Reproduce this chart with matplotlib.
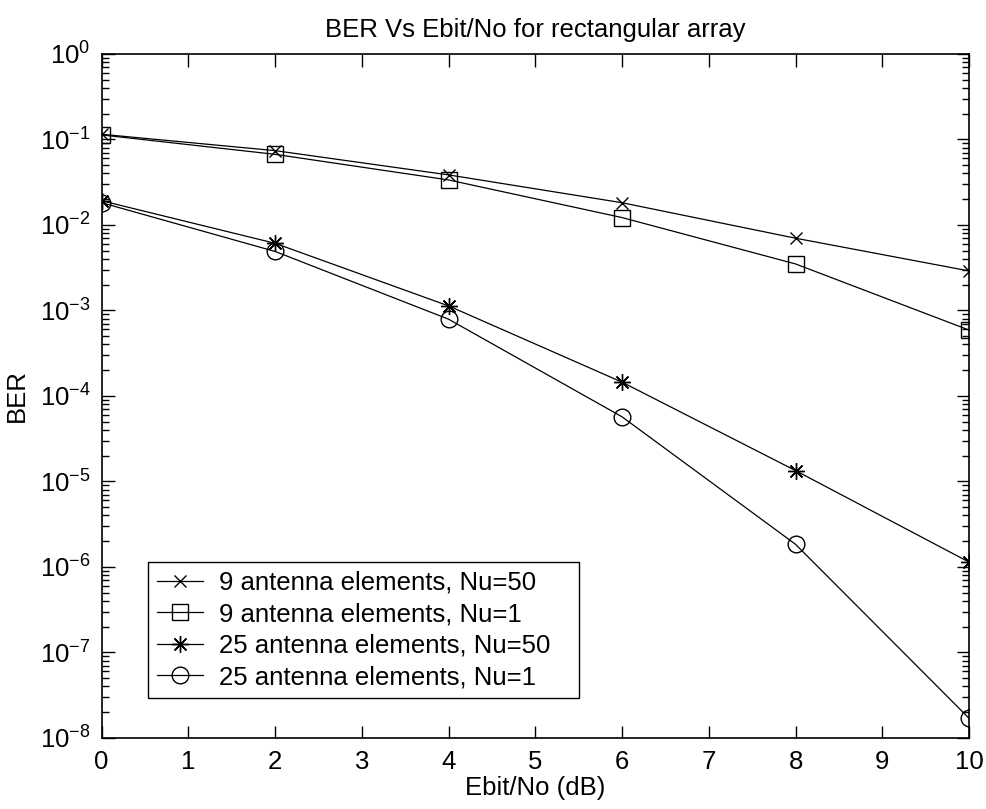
import matplotlib
matplotlib.use("Agg")
import matplotlib.pyplot as plt
from matplotlib.ticker import LogLocator, NullFormatter, FixedLocator

plt.rcParams["font.family"] = ["Liberation Sans", "DejaVu Sans"]
plt.rcParams["mathtext.fontset"] = "custom"
plt.rcParams["mathtext.rm"] = "Liberation Sans"
plt.rcParams["mathtext.default"] = "regular"

# Ebit/No (dB) values
ebno = [0, 2, 4, 6, 8, 10]

# BER
ber_9_nu50 = [0.115, 0.074, 0.0385, 0.0182, 0.0070, 0.0029]
ber_9_nu1 = [0.113, 0.067, 0.0336, 0.0122, 0.0035, 0.00059]
ber_25_nu50 = [0.0192, 0.0061, 0.00113, 1.45e-4, 1.34e-5, 1.14e-6]
ber_25_nu1 = [0.0182, 0.0049, 0.00079, 5.7e-5, 1.84e-6, 1.7e-8]

labels = ["9 antenna elements, Nu=50", "9 antenna elements, Nu=1",
          "25 antenna elements, Nu=50", "25 antenna elements, Nu=1"]

FS = 18.5

fig = plt.figure(figsize=(9.86, 8.09), dpi=100)
ax = fig.add_axes([0.1031, 0.0878, 0.8797, 0.8455])

common = dict(color="black", lw=0.9, mfc="none", mec="black", mew=1.0)
ax.semilogy(ebno, ber_9_nu50, marker="x", ms=8, label=labels[0], **common)
ax.semilogy(ebno, ber_9_nu1, marker="s", ms=12, label=labels[1], **common)
ax.semilogy(ebno, ber_25_nu50, marker=(8, 2, 0), ms=12, label=labels[2], **common)
ax.semilogy(ebno, ber_25_nu1, marker="o", ms=12, label=labels[3], **common)

ax.set_xlim(0, 10)
ax.set_ylim(1e-8, 1)
ax.xaxis.set_major_locator(FixedLocator(range(0, 11)))
ax.yaxis.set_major_locator(LogLocator(base=10, numticks=20))
ax.yaxis.set_minor_locator(LogLocator(base=10, subs=range(2, 10), numticks=20))
ax.yaxis.set_minor_formatter(NullFormatter())

ax.tick_params(which="both", direction="in", top=True, right=True, labelsize=FS,
               width=1.0, color="black")
ax.tick_params(which="major", length=9)
ax.tick_params(which="minor", length=5)
ax.tick_params(axis="x", pad=9)
ax.tick_params(axis="y", pad=8)
for sp in ax.spines.values():
    sp.set_linewidth(1.2)

ax.set_title("BER Vs Ebit/No for rectangular array", fontsize=FS, pad=12)
ax.set_xlabel("Ebit/No (dB)", fontsize=FS, labelpad=1)
ax.set_ylabel("BER", fontsize=FS, labelpad=8)

leg = ax.legend(loc="upper left", bbox_to_anchor=(0.0534, 0.0555, 0.497, 0.2018),
                mode="expand", fontsize=FS, fancybox=False, framealpha=1,
                edgecolor="black", handlelength=1.8, handletextpad=0.6,
                borderpad=0.35, labelspacing=0.29, borderaxespad=0)
leg.get_frame().set_linewidth(1.0)

fig.savefig("out.png", dpi=100)
